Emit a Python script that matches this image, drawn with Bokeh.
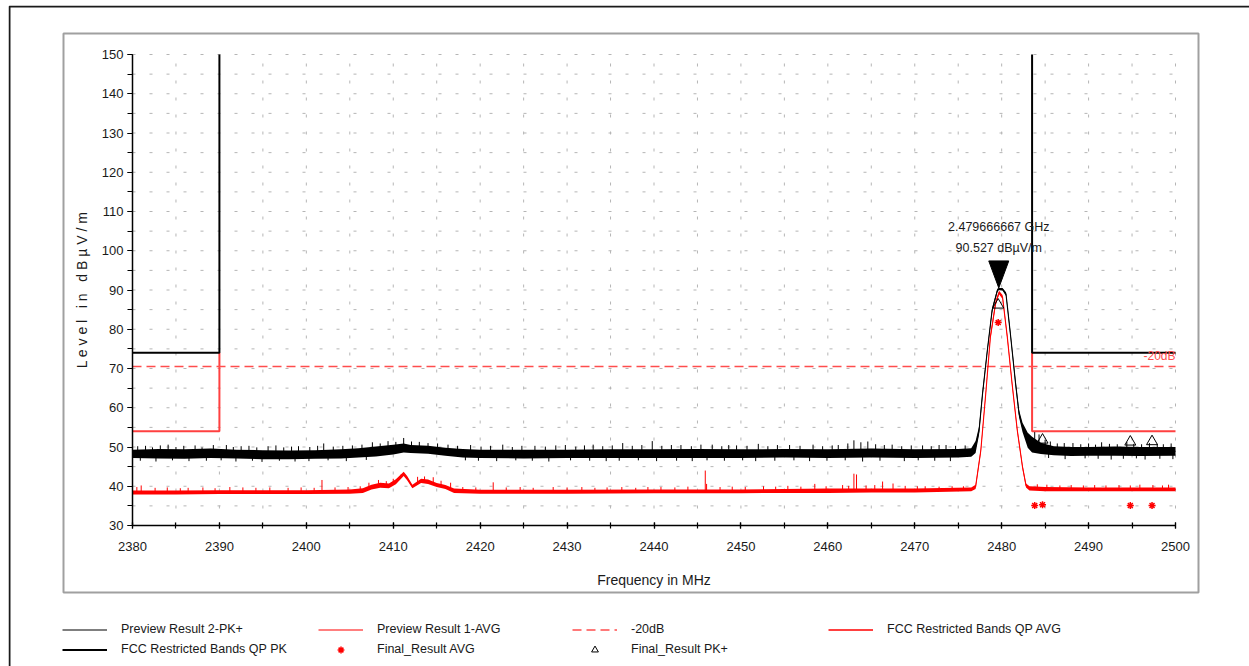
import numpy as np
from bokeh.plotting import figure
from bokeh.models import (Range1d, SingleIntervalTicker, Label, Legend, LegendItem,
                          BoxAnnotation, LinearAxis)
from bokeh.embed import file_html
from bokeh.resources import INLINE

# ---------------- data ----------------
# Preview Result 2-PK+ (black trace): frequency, lower and upper edge of the dense band
pk_freq = [2380, 2383, 2386, 2389, 2392, 2395, 2398, 2401, 2404, 2406, 2408, 2410, 2411.2,
           2412, 2414, 2416, 2418, 2420, 2425, 2430, 2435, 2440, 2445, 2450, 2455, 2460,
           2465, 2470, 2475, 2476.5, 2477.0, 2477.4, 2477.8, 2478.35, 2478.9, 2479.5,
           2479.67, 2480.1, 2480.5, 2481.0, 2481.6, 2482.0, 2482.4, 2483.0, 2483.5,
           2484.5, 2486, 2488, 2490, 2493, 2496, 2500]
pk_lo = [47.2, 47.1, 47.0, 47.2, 47.1, 46.9, 46.9, 47.0, 47.1, 47.3, 47.6, 48.1, 48.6,
         48.5, 48.3, 47.8, 47.3, 47.2, 47.1, 47.2, 47.2, 47.2, 47.2, 47.2, 47.3, 47.2,
         47.3, 47.2, 47.3, 47.5, 48.5, 53.2, 62.8, 74.0, 84.2, 89.4,
         90.0, 89.9, 88.5, 78.2, 65.4, 57.6, 53.8, 49.8, 48.6,
         48.2, 47.9, 47.7, 47.8, 47.8, 47.7, 47.8]
pk_hi = [49.3, 49.5, 49.4, 49.6, 49.3, 49.2, 49.1, 49.2, 49.4, 49.7, 50.1, 50.6, 50.9,
         50.5, 50.3, 49.8, 49.5, 49.3, 49.3, 49.3, 49.4, 49.4, 49.5, 49.4, 49.5, 49.4,
         49.6, 49.4, 49.5, 49.7, 51.5, 55.2, 64.4, 75.2, 85.4, 90.3,
         90.527, 90.5, 89.4, 79.6, 67.0, 59.4, 56.2, 53.6, 52.6,
         51.1, 50.2, 50.0, 50.0, 50.1, 50.0, 50.0]
# upward spikes of the black trace (frequency, tip level)
pk_spike_freq = [2380.6, 2381.5, 2382.3, 2383.2, 2384.1, 2385.0, 2385.9, 2387.2, 2388.0,
                 2389.3, 2390.8, 2391.6, 2392.5, 2393.4, 2394.3, 2395.6, 2396.5, 2397.4,
                 2398.3, 2399.1, 2400.4, 2401.3, 2402.0, 2403.1, 2404.2, 2405.3, 2406.4,
                 2407.6, 2408.5, 2409.4, 2410.3, 2411.2, 2412.1, 2413.0, 2414.0, 2415.1,
                 2416.3, 2417.4, 2418.9, 2420.1, 2421.2, 2422.6, 2423.7, 2424.8, 2426.3,
                 2427.5, 2428.7, 2429.8, 2431.0, 2432.0, 2433.0, 2434.1, 2435.2, 2436.4,
                 2437.5, 2438.6, 2439.8, 2440.9, 2442.0, 2443.1, 2444.3, 2445.4, 2446.7,
                 2447.8, 2448.6, 2449.5, 2450.7, 2452.0, 2453.1, 2454.2, 2455.6, 2456.8,
                 2458.3, 2459.4, 2460.5, 2461.2, 2462.3, 2463.0, 2463.8, 2464.6, 2465.5,
                 2466.5, 2467.4, 2468.5, 2469.6, 2470.9, 2471.9, 2472.8, 2473.6, 2474.7,
                 2475.8, 2483.8, 2484.3, 2485.0, 2485.6, 2486.4, 2487.2, 2488.2, 2489.1,
                 2490.0, 2490.8, 2491.5, 2492.4, 2493.3, 2494.4, 2495.2, 2496.1, 2497.0,
                 2497.9, 2498.6, 2499.5]
pk_spike_top = [50.2, 50.3, 49.9, 50.4, 50.6, 50.0, 50.3, 50.4, 49.9,
                50.5, 50.5, 50.0, 50.2, 50.3, 49.9, 50.2, 50.4, 49.9,
                50.1, 50.2, 50.0, 50.3, 50.9, 50.1, 50.3, 50.4, 50.6,
                51.2, 50.9, 51.5, 51.3, 52.3, 51.4, 51.3, 51.0, 50.9,
                50.6, 50.3, 50.5, 50.1, 50.3, 50.6, 50.0, 50.3, 50.3,
                50.1, 50.4, 50.5, 50.1, 50.4, 50.6, 50.2, 50.4, 51.0,
                50.3, 50.5, 51.5, 50.3, 50.5, 50.5, 50.2, 50.6, 50.6,
                50.2, 50.5, 50.4, 50.3, 50.8, 50.2, 50.5, 50.5, 50.3,
                50.6, 50.2, 50.4, 50.5, 50.9, 51.7, 51.2, 51.4, 50.7,
                50.5, 50.6, 50.2, 50.4, 50.4, 50.2, 50.5, 50.5, 50.3,
                50.4, 53.8, 53.2, 51.8, 51.4, 50.9, 51.0, 51.0, 50.7,
                50.9, 50.6, 51.2, 50.8, 50.7, 51.3, 50.8, 50.7, 51.0,
                50.8, 50.7, 50.9]
# downward spikes of the black trace (frequency, lowest level)
pk_dip_freq = [2380.9, 2382.7, 2384.6, 2386.5, 2388.5, 2390.2, 2391.9, 2393.8, 2394.9,
               2396.9, 2398.7, 2400.3, 2402.5, 2404.6, 2406.9, 2418.3, 2419.8, 2421.9,
               2424.1, 2426.0, 2427.9, 2430.4, 2432.6, 2434.5, 2436.0, 2438.2, 2440.3,
               2442.6, 2444.4, 2446.1, 2448.1, 2450.2, 2451.7, 2453.9, 2456.1, 2457.9,
               2459.9, 2462.0, 2464.0, 2466.0, 2468.8, 2470.4, 2472.3, 2474.1, 2485.4,
               2487.3, 2489.6, 2491.1, 2492.6, 2494.0, 2495.5, 2496.5, 2498.2, 2499.7]
pk_dip_bottom = [46.5, 46.3, 46.6, 46.4, 46.5, 46.6, 46.3, 46.5, 46.2,
                 46.5, 46.3, 46.4, 46.6, 46.4, 46.7, 46.6, 46.5, 46.4,
                 46.6, 46.5, 46.3, 46.6, 46.5, 46.4, 46.5, 46.6, 46.4,
                 46.5, 46.4, 46.6, 46.5, 46.6, 46.4, 46.5, 46.6, 46.4,
                 46.5, 46.6, 46.3, 46.5, 46.4, 46.6, 46.5, 46.4, 47.2,
                 46.9, 47.1, 47.0, 46.8, 47.0, 47.1, 46.8, 47.0, 46.9]

# Preview Result 1-AVG (red trace)
avg_freq = [2380, 2385, 2390, 2395, 2400, 2405, 2406.5, 2407.5, 2408.5, 2409.5, 2410.3,
            2411.2, 2411.6, 2412.2, 2413.2, 2414.0, 2415.0, 2416.0, 2417.0, 2420, 2430,
            2440, 2445, 2450, 2455, 2460, 2465, 2470, 2476.5, 2477.0, 2477.6, 2478.2,
            2478.7, 2479.3, 2479.7, 2480.1, 2480.65, 2481.2, 2481.8, 2482.4, 2482.8,
            2483.2, 2485, 2490, 2495, 2500]
avg_lo = [37.9, 37.9, 38.0, 38.0, 38.0, 38.1, 38.3, 39.2, 39.6, 39.5, 40.5,
          42.6, 41.5, 39.5, 40.8, 40.6, 39.8, 39.3, 38.3, 38.1, 38.1,
          38.2, 38.2, 38.2, 38.3, 38.3, 38.4, 38.4, 38.7, 39.3, 48.5, 63.8,
          77.4, 86.0, 88.9, 87.7, 77.4, 65.5, 53.6, 44.3, 39.7,
          38.9, 38.7, 38.7, 38.7, 38.7]
avg_hi = [38.9, 38.9, 39.0, 39.0, 39.0, 39.2, 39.5, 40.4, 40.9, 40.7, 41.8,
          43.7, 42.6, 40.4, 41.9, 41.7, 40.8, 40.3, 39.4, 39.1, 39.1,
          39.2, 39.2, 39.2, 39.3, 39.4, 39.4, 39.4, 39.7, 40.4, 49.7, 65.0,
          78.6, 87.2, 89.8, 88.7, 78.6, 66.7, 54.8, 45.5, 40.7,
          40.0, 39.8, 39.7, 39.7, 39.7]
avg_spike_freq = [2380.5, 2381.0, 2382.6, 2384.0, 2385.5, 2386.4, 2388.1, 2389.5, 2391.2,
                  2392.7, 2394.2, 2395.8, 2397.9, 2399.4, 2400.9, 2401.8, 2403.3, 2404.8,
                  2406.2, 2407.2, 2408.3, 2409.2, 2410.0, 2410.9, 2412.8, 2413.6, 2414.6,
                  2415.5, 2416.6, 2418.0, 2419.5, 2421.5, 2423.0, 2424.6, 2426.1, 2428.4,
                  2430.0, 2431.7, 2433.2, 2434.6, 2436.3, 2437.9, 2439.3, 2440.8, 2442.4,
                  2443.9, 2445.9, 2446.05, 2447.6, 2449.0, 2450.5, 2452.6, 2454.0, 2455.4,
                  2456.9, 2458.5, 2459.8, 2461.7, 2462.4, 2463.0, 2463.3, 2464.4, 2465.4,
                  2466.3, 2467.5, 2468.9, 2470.3, 2471.2, 2472.8, 2474.3, 2475.6, 2484.1,
                  2485.2, 2486.7, 2488.0, 2489.4, 2490.7, 2492.0, 2493.5, 2494.8, 2495.9,
                  2497.4, 2498.5, 2499.2]
avg_spike_top = [39.8, 40.2, 39.6, 39.7, 39.5, 39.6, 39.7, 39.5, 39.8,
                 39.7, 39.6, 39.7, 39.6, 39.7, 39.6, 41.6, 39.7, 39.8,
                 40.0, 40.9, 41.6, 41.3, 41.9, 43.0, 42.4, 42.5, 42.3,
                 41.4, 40.9, 39.8, 39.7, 41.0, 39.7, 39.8, 39.6, 39.8,
                 39.7, 39.8, 39.6, 39.7, 39.8, 39.6, 39.8, 39.8, 39.7,
                 39.9, 44.0, 40.6, 39.8, 39.9, 39.8, 40.0, 39.9, 40.1,
                 39.9, 40.6, 40.0, 40.3, 40.1, 43.2, 43.0, 40.2, 40.3,
                 41.2, 40.7, 40.1, 40.0, 40.0, 39.9, 40.0, 40.0, 40.5,
                 40.4, 40.2, 40.3, 40.2, 40.3, 40.2, 40.3, 40.2, 40.4,
                 40.3, 40.2, 40.4]

# Limits
qppk_f = [[2380, 2390, 2390], [2483.5, 2483.5, 2500]]
qppk_v = [[74, 74, 150], [150, 74, 74]]
qpavg_f = [[2380, 2390, 2390], [2483.5, 2483.5, 2500]]
qpavg_v = [[54, 54, 74], [74, 54, 54]]
minus20_f = [2380, 2500]
minus20_v = [70.527, 70.527]

# Final results
final_pk_f = [2479.6, 2484.7, 2494.8, 2497.3]
final_pk_v = [86.2, 51.8, 51.3, 51.4]
final_avg_f = [2479.6, 2483.8, 2484.7, 2494.8, 2497.3]
final_avg_v = [81.7, 35.1, 35.3, 35.1, 35.1]

# Marker
marker_f = 2479.666667
marker_v = 90.527

# Axis extents and tick steps
f_min, f_max, f_major, f_grid = 2380, 2500, 10, 5
v_min, v_max, v_major, v_grid = 30, 150, 10, 5

# ---------------- layout (pixels) ----------------
W, H = 1249, 666
FRAME_L, FRAME_T = 8, 5          # outer border
PLOT_L, PLOT_R, PLOT_T, PLOT_B = 132, 1175, 54, 525
FONT = "Liberation Sans"
TXT = "#1a1a1a"

pxf = (PLOT_R - PLOT_L) / (f_max - f_min)
pxv = (PLOT_B - PLOT_T) / (v_max - v_min)
x_range = Range1d(f_min - (PLOT_L - FRAME_L) / pxf, f_max + (W - PLOT_R) / pxf)
y_range = Range1d(v_min - (H - PLOT_B) / pxv, v_max + (PLOT_T - FRAME_T) / pxv)

p = figure(width=W, height=H, output_backend="svg", toolbar_location=None,
           x_range=x_range, y_range=y_range, x_axis_location=None, y_axis_location=None,
           min_border_left=FRAME_L, min_border_top=FRAME_T, min_border_right=0,
           min_border_bottom=0)
p.background_fill_color = "white"
p.border_fill_color = "white"
p.outline_line_color = None
p.xgrid.visible = False
p.ygrid.visible = False

# grid (dotted lattice at every 5 MHz / 5 dB inside the plot area)
grid_f = list(range(f_min, f_max + 1, f_grid))
grid_v = list(range(v_min, v_max + 1, v_grid))
p.segment(x0=grid_f, y0=[v_min] * len(grid_f), x1=grid_f, y1=[v_max] * len(grid_f),
          line_color="#b5b5b5", line_width=1, line_dash="3 14")
p.segment(x0=[f_min] * len(grid_v), y0=grid_v, x1=[f_max] * len(grid_v), y1=grid_v,
          line_color="#b5b5b5", line_width=1, line_dash="3 14")

# axes
xaxis = LinearAxis(fixed_location=v_min, bounds=(f_min, f_max),
                   ticker=SingleIntervalTicker(interval=f_major, num_minor_ticks=2),
                   axis_label="Frequency in MHz")
yaxis = LinearAxis(fixed_location=f_min, bounds=(v_min, v_max),
                   ticker=SingleIntervalTicker(interval=v_major, num_minor_ticks=2),
                   axis_label="L e v e l\u00a0\u00a0 i n\u00a0\u00a0 d B µ V / m")
p.add_layout(xaxis, "below")
p.add_layout(yaxis, "left")
for ax in (xaxis, yaxis):
    ax.axis_line_color = "black"
    ax.axis_line_width = 1.5
    ax.major_tick_line_color = "black"
    ax.minor_tick_line_color = "black"
    ax.major_tick_line_width = 1.2
    ax.minor_tick_line_width = 1.2
    ax.major_label_text_font = FONT
    ax.major_label_text_font_size = "13px"
    ax.major_label_text_color = TXT
    ax.axis_label_text_font = FONT
    ax.axis_label_text_font_size = "14px"
    ax.axis_label_text_font_style = "normal"
    ax.axis_label_text_color = TXT
xaxis.major_tick_in = 3
xaxis.major_tick_out = 3
xaxis.minor_tick_in = 3
xaxis.minor_tick_out = 3
yaxis.major_tick_in = 0
yaxis.major_tick_out = 5
yaxis.minor_tick_in = 0
yaxis.minor_tick_out = 5
xaxis.major_label_standoff = 13
xaxis.axis_label_standoff = 18
yaxis.major_label_standoff = 4
yaxis.axis_label_standoff = 9

# limit lines
qpavg = p.multi_line(xs=qpavg_f, ys=qpavg_v, line_color="#ff4040", line_width=2)
qppk = p.multi_line(xs=qppk_f, ys=qppk_v, line_color="black", line_width=2)
m20 = p.line(minus20_f, minus20_v, line_color="#ff4d4d", line_width=1.5, line_dash="9 5")

# traces
pk_mid = [(a + b) / 2 for a, b in zip(pk_lo, pk_hi)]
avg_mid = [(a + b) / 2 for a, b in zip(avg_lo, avg_hi)]
p.varea(x=pk_freq, y1=pk_lo, y2=pk_hi, fill_color="black")
pk_line = p.line(pk_freq, pk_mid, line_color="black", line_width=1.1)
# spikes start inside the band (at its centre) and run to the read tip
pk_spike_base = np.interp(pk_spike_freq, pk_freq, pk_mid)
pk_dip_base = np.interp(pk_dip_freq, pk_freq, pk_mid)
p.segment(x0=pk_spike_freq, y0=pk_spike_base, x1=pk_spike_freq, y1=pk_spike_top,
          line_color="black", line_width=1)
p.segment(x0=pk_dip_freq, y0=pk_dip_base, x1=pk_dip_freq, y1=pk_dip_bottom,
          line_color="black", line_width=1)
p.varea(x=avg_freq, y1=avg_lo, y2=avg_hi, fill_color="red")
avg_line = p.line(avg_freq, avg_mid, line_color="red", line_width=1.1)
avg_spike_base = np.interp(avg_spike_freq, avg_freq, avg_mid)
p.segment(x0=avg_spike_freq, y0=avg_spike_base, x1=avg_spike_freq, y1=avg_spike_top,
          line_color="red", line_width=1)

# final results
fpk = p.scatter(final_pk_f, final_pk_v, marker="triangle", size=11, fill_color=None,
                line_color="black", line_width=1)
favg = p.scatter(final_avg_f, final_avg_v, marker="asterisk", size=7, line_color="red",
                 line_width=1.5)

# peak marker: downward triangle with its tip on the marker value
tri_h = 27 / pxv
tri_w = 10 / pxf
p.patch([marker_f - tri_w, marker_f + tri_w, marker_f],
        [marker_v + tri_h, marker_v + tri_h, marker_v], fill_color="black",
        line_color="black")
p.add_layout(Label(x=marker_f, y=marker_v, y_offset=61, text="2.479666667 GHz",
                   text_align="center", text_baseline="middle", text_font=FONT,
                   text_font_size="12.5px", text_color=TXT))
p.add_layout(Label(x=marker_f, y=marker_v, y_offset=40, text="90.527 dBµV/m",
                   text_align="center", text_baseline="middle", text_font=FONT,
                   text_font_size="12.5px", text_color=TXT))
p.add_layout(Label(x=f_max, y=minus20_v[0], y_offset=3, text="-20dB", text_align="right",
                   text_baseline="bottom", text_font=FONT, text_font_size="12px",
                   text_color="#ff4d4d"))

# frames around the chart (canvas pixels)
p.add_layout(BoxAnnotation(left=63, right=1198, top=33, bottom=592,
                           left_units="canvas", right_units="canvas",
                           top_units="canvas", bottom_units="canvas",
                           fill_alpha=0, line_color="#a0a0a0", line_alpha=1,
                           line_width=2))
p.add_layout(BoxAnnotation(left=FRAME_L + 1, right=W + 40, top=FRAME_T + 1, bottom=H + 40,
                           left_units="canvas", right_units="canvas",
                           top_units="canvas", bottom_units="canvas",
                           fill_alpha=0, line_color="#1a1a1a", line_alpha=1,
                           line_width=2))

# legends (four columns, two rows)
def make_legend(items, left_px, bottom_px):
    lg = Legend(items=items, location=(left_px - FRAME_L, H - bottom_px),
                orientation="vertical", padding=0, margin=0, spacing=3,
                glyph_width=45, glyph_height=17, label_height=17, label_standoff=14,
                label_text_font=FONT, label_text_font_size="12.5px",
                label_text_color=TXT, border_line_color=None,
                background_fill_alpha=0)
    p.add_layout(lg, "center")

make_legend([LegendItem(label="Preview Result 2-PK+", renderers=[pk_line]),
             LegendItem(label="FCC Restricted Bands QP PK", renderers=[qppk])], 62, 657.5)
make_legend([LegendItem(label="Preview Result 1-AVG", renderers=[avg_line]),
             LegendItem(label="Final_Result AVG", renderers=[favg])], 318, 657.5)
make_legend([LegendItem(label="-20dB", renderers=[m20]),
             LegendItem(label="Final_Result PK+", renderers=[fpk])], 572, 657.5)
make_legend([LegendItem(label="FCC Restricted Bands QP AVG", renderers=[qpavg])],
            828, 637.5)

open("out.html", "w").write(file_html(p, INLINE))
